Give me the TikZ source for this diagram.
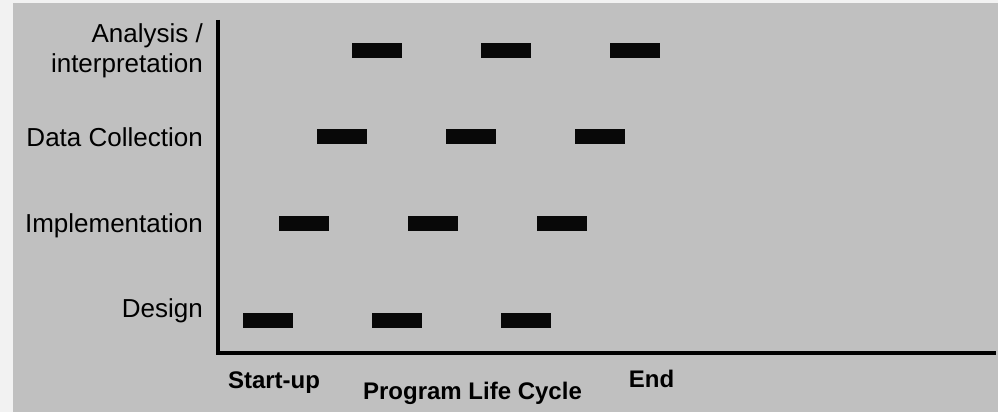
\documentclass[tikz,border=0pt]{standalone}
\usepackage{fontspec}
\setmainfont{Liberation Sans}
\definecolor{outerbg}{HTML}{F2F2F2}
\definecolor{panel}{HTML}{C0C0C0}
\definecolor{barblack}{HTML}{080808}
\tikzset{
  phasebar/.style={rectangle, fill=barblack, minimum width=50pt, minimum height=15pt, inner sep=0pt},
  rowlabel/.style={anchor=base east, inner sep=0pt, font=\fontsize{26}{30}\selectfont},
  axislabel/.style={anchor=base, inner sep=0pt, font=\fontsize{24}{28}\selectfont\bfseries}
}
\begin{document}
\begin{tikzpicture}[x=1pt,y=-1pt]
\pgfmathsetmacro{\gap}{129};
\pgfmathsetmacro{\lx}{203};
\useasboundingbox (0,0) rectangle (998,412);
\fill[outerbg] (0,0) rectangle (998,412);
\fill[panel] (13,3) rectangle (998,412);
\begin{scope}
% axes
\coordinate (ytop) at (218,20);
\coordinate (xend) at (996,353);
\draw[line width=3.5pt] (ytop) |- (xend);
% phases
\foreach \row/\y/\x in {design/320.5/268, impl/223.5/304, data/136.5/342, anal/50.5/377}
  \foreach \k in {0,1,2}
    \node[phasebar] (\row\k) at ({\x+\gap*\k},\y) {};
\node[rowlabel] (designlbl) at (\lx,317) {Design};
\node[rowlabel] (impllbl) at (\lx,232) {Implementation};
\node[rowlabel] (datalbl) at (\lx,146) {Data Collection};
\node[rowlabel] (anallbl) at (\lx,43) {Analysis /};
\node[rowlabel] (interplbl) at (\lx,73) {interpretation};
\node[axislabel] (startlbl) at (274,388) {Start-up};
\node[axislabel] (cyclelbl) at (472.5,399) {Program Life Cycle};
\node[axislabel] (endlbl) at (651.5,387) {End};
\end{scope}
\end{tikzpicture}
\end{document}
